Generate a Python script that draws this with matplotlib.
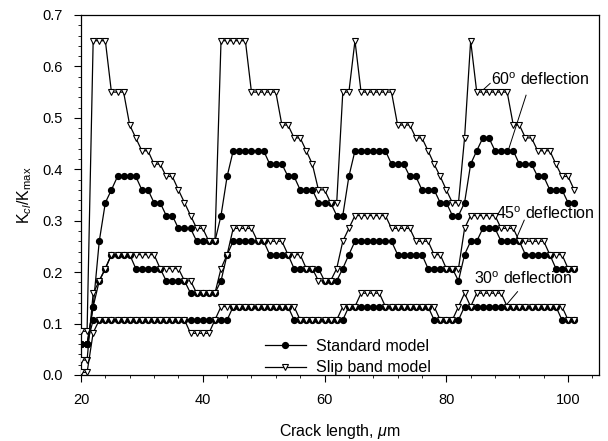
import matplotlib
matplotlib.use('Agg')
import matplotlib.pyplot as plt
from matplotlib.ticker import MultipleLocator

plt.rcParams['font.family'] = ['Liberation Sans', 'DejaVu Sans']
plt.rcParams['mathtext.fontset'] = 'custom'
plt.rcParams['mathtext.rm'] = 'Liberation Sans'
plt.rcParams['mathtext.it'] = 'Liberation Sans:italic'

crack_length = [20, 21, 22, 23, 24, 25, 26, 27, 28, 29,
                30, 31, 32, 33, 34, 35, 36, 37, 38, 39,
                40, 41, 42, 43, 44, 45, 46, 47, 48, 49,
                50, 51, 52, 53, 54, 55, 56, 57, 58, 59,
                60, 61, 62, 63, 64, 65, 66, 67, 68, 69,
                70, 71, 72, 73, 74, 75, 76, 77, 78, 79,
                80, 81, 82, 83, 84, 85, 86, 87, 88, 89,
                90, 91, 92, 93, 94, 95, 96, 97, 98, 99,
                100, 101]

std_60 = [0.06, 0.06, 0.133, 0.26, 0.335, 0.36, 0.386, 0.386, 0.386, 0.386,
          0.36, 0.36, 0.335, 0.335, 0.31, 0.31, 0.285, 0.285, 0.285, 0.26,
          0.26, 0.26, 0.26, 0.31, 0.386, 0.436, 0.436, 0.436, 0.436, 0.436,
          0.436, 0.41, 0.41, 0.41, 0.386, 0.386, 0.36, 0.36, 0.36, 0.335,
          0.335, 0.335, 0.31, 0.31, 0.386, 0.436, 0.436, 0.436, 0.436, 0.436,
          0.436, 0.41, 0.41, 0.41, 0.386, 0.386, 0.36, 0.36, 0.36, 0.335,
          0.335, 0.31, 0.31, 0.335, 0.41, 0.436, 0.461, 0.461, 0.436, 0.436,
          0.436, 0.436, 0.41, 0.41, 0.41, 0.386, 0.386, 0.36, 0.36, 0.36,
          0.335, 0.335]

slip_60 = [0.085, 0.085, 0.65, 0.65, 0.65, 0.55, 0.55, 0.55, 0.486, 0.461,
           0.436, 0.436, 0.41, 0.41, 0.386, 0.386, 0.36, 0.335, 0.31, 0.285,
           0.285, 0.26, 0.26, 0.65, 0.65, 0.65, 0.65, 0.65, 0.55, 0.55,
           0.55, 0.55, 0.55, 0.486, 0.486, 0.461, 0.461, 0.436, 0.41, 0.36,
           0.36, 0.335, 0.335, 0.55, 0.55, 0.65, 0.55, 0.55, 0.55, 0.55,
           0.55, 0.55, 0.486, 0.486, 0.486, 0.461, 0.461, 0.436, 0.41, 0.386,
           0.36, 0.335, 0.335, 0.461, 0.65, 0.55, 0.55, 0.55, 0.55, 0.55,
           0.55, 0.486, 0.486, 0.461, 0.461, 0.436, 0.436, 0.436, 0.41, 0.386,
           0.386, 0.36]

std_45 = [0.06, 0.06, 0.133, 0.183, 0.207, 0.234, 0.234, 0.234, 0.234, 0.207,
          0.207, 0.207, 0.207, 0.207, 0.183, 0.183, 0.183, 0.183, 0.159, 0.159,
          0.159, 0.159, 0.159, 0.183, 0.234, 0.26, 0.26, 0.26, 0.26, 0.26,
          0.26, 0.234, 0.234, 0.234, 0.234, 0.207, 0.207, 0.207, 0.207, 0.207,
          0.183, 0.183, 0.183, 0.207, 0.234, 0.26, 0.26, 0.26, 0.26, 0.26,
          0.26, 0.26, 0.234, 0.234, 0.234, 0.234, 0.234, 0.207, 0.207, 0.207,
          0.207, 0.207, 0.183, 0.234, 0.26, 0.26, 0.285, 0.285, 0.285, 0.26,
          0.26, 0.26, 0.26, 0.234, 0.234, 0.234, 0.234, 0.234, 0.207, 0.207,
          0.207, 0.207]

slip_45 = [0.029, 0.029, 0.159, 0.183, 0.207, 0.234, 0.234, 0.234, 0.234, 0.234,
           0.234, 0.234, 0.234, 0.207, 0.207, 0.207, 0.207, 0.183, 0.183, 0.159,
           0.159, 0.159, 0.159, 0.207, 0.234, 0.285, 0.285, 0.285, 0.285, 0.26,
           0.26, 0.26, 0.26, 0.26, 0.234, 0.234, 0.234, 0.207, 0.207, 0.183,
           0.183, 0.183, 0.207, 0.26, 0.285, 0.31, 0.31, 0.31, 0.31, 0.31,
           0.31, 0.285, 0.285, 0.285, 0.285, 0.26, 0.26, 0.26, 0.234, 0.234,
           0.207, 0.207, 0.207, 0.285, 0.31, 0.31, 0.31, 0.31, 0.31, 0.285,
           0.285, 0.285, 0.26, 0.26, 0.26, 0.26, 0.26, 0.234, 0.234, 0.234,
           0.207, 0.207]

std_30 = [0.06, 0.06, 0.107, 0.107, 0.107, 0.107, 0.107, 0.107, 0.107, 0.107,
          0.107, 0.107, 0.107, 0.107, 0.107, 0.107, 0.107, 0.107, 0.107, 0.107,
          0.107, 0.107, 0.107, 0.107, 0.107, 0.133, 0.133, 0.133, 0.133, 0.133,
          0.133, 0.133, 0.133, 0.133, 0.133, 0.107, 0.107, 0.107, 0.107, 0.107,
          0.107, 0.107, 0.107, 0.107, 0.133, 0.133, 0.133, 0.133, 0.133, 0.133,
          0.133, 0.133, 0.133, 0.133, 0.133, 0.133, 0.133, 0.133, 0.107, 0.107,
          0.107, 0.107, 0.107, 0.133, 0.133, 0.133, 0.133, 0.133, 0.133, 0.133,
          0.133, 0.133, 0.133, 0.133, 0.133, 0.133, 0.133, 0.133, 0.133, 0.107,
          0.107, 0.107]

slip_30 = [0.005, 0.005, 0.082, 0.107, 0.107, 0.107, 0.107, 0.107, 0.107, 0.107,
           0.107, 0.107, 0.107, 0.107, 0.107, 0.107, 0.107, 0.107, 0.081, 0.081,
           0.081, 0.081, 0.107, 0.133, 0.133, 0.133, 0.133, 0.133, 0.133, 0.133,
           0.133, 0.133, 0.133, 0.133, 0.133, 0.133, 0.107, 0.107, 0.107, 0.107,
           0.107, 0.107, 0.107, 0.133, 0.133, 0.133, 0.159, 0.159, 0.159, 0.159,
           0.133, 0.133, 0.133, 0.133, 0.133, 0.133, 0.133, 0.133, 0.133, 0.107,
           0.107, 0.107, 0.133, 0.159, 0.133, 0.159, 0.159, 0.159, 0.159, 0.159,
           0.133, 0.133, 0.133, 0.133, 0.133, 0.133, 0.133, 0.133, 0.133, 0.133,
           0.107, 0.107]

x_ticks = [20, 40, 60, 80, 100]
y_ticks = [0.0, 0.1, 0.2, 0.3, 0.4, 0.5, 0.6, 0.7]
legend_labels = ['Standard model', 'Slip band model']
angle_labels = ['60$^{\\mathrm{o}}$ deflection', '45$^{\\mathrm{o}}$ deflection',
                '30$^{\\mathrm{o}}$ deflection']

fig = plt.figure(figsize=(6.08, 4.41), dpi=100)
ax = fig.add_axes([0.1332, 0.1497, 0.8512, 0.8163])

std_kw = dict(color='black', lw=0.9, marker='o', markersize=4.2,
              markerfacecolor='black', markeredgecolor='black', zorder=2)
slip_kw = dict(color='black', lw=0.9, marker='v', markersize=5,
               markerfacecolor='white', markeredgecolor='black',
               markeredgewidth=0.8, zorder=3)

h_std, = ax.plot(crack_length, std_60, **std_kw)
ax.plot(crack_length, std_45, **std_kw)
ax.plot(crack_length, std_30, **std_kw)
h_slip, = ax.plot(crack_length, slip_60, **slip_kw)
ax.plot(crack_length, slip_45, **slip_kw)
ax.plot(crack_length, slip_30, **slip_kw)

ax.set_xlim(20, 105)
ax.set_ylim(0, 0.7)
ax.set_xticks(x_ticks)
ax.set_yticks(y_ticks)
ax.set_yticklabels([f'{v:.1f}' for v in y_ticks])
ax.xaxis.set_minor_locator(MultipleLocator(4))
ax.yaxis.set_minor_locator(MultipleLocator(0.02))
ax.tick_params(which='major', direction='out', length=5, width=0.8,
               labelsize=10.5, pad=8)
ax.tick_params(which='minor', direction='out', length=2.5, width=0.6)
for s in ax.spines.values():
    s.set_linewidth(0.9)

ax.set_xlabel('Crack length, $\\mu$m', fontsize=11.5, labelpad=11)
ax.set_ylabel('K$_{\\mathit{cl}}$/K$_{\\mathrm{max}}$', fontsize=11.5, labelpad=6)

ax.legend([h_std, h_slip], legend_labels, loc='center left',
          bbox_to_anchor=(0.355, 0.05), frameon=False, fontsize=11.5,
          handlelength=2.6, handletextpad=0.6, labelspacing=0.4,
          borderaxespad=0, borderpad=0)

ax.text(87.3, 0.574, angle_labels[0], fontsize=11.5, va='center', ha='left')
ax.plot([87.2, 86.0], [0.567, 0.554], color='black', lw=0.7)
ax.plot([93.1, 90.2], [0.544, 0.4375], color='black', lw=0.7)

ax.text(88.1, 0.314, angle_labels[1], fontsize=11.5, va='center', ha='left')
ax.plot([92.8, 91.4], [0.301, 0.2625], color='black', lw=0.7)

ax.text(84.6, 0.188, angle_labels[2], fontsize=11.5, va='center', ha='left')
ax.plot([91.7, 89.7], [0.162, 0.134], color='black', lw=0.7)

fig.savefig('out.png', dpi=100)
